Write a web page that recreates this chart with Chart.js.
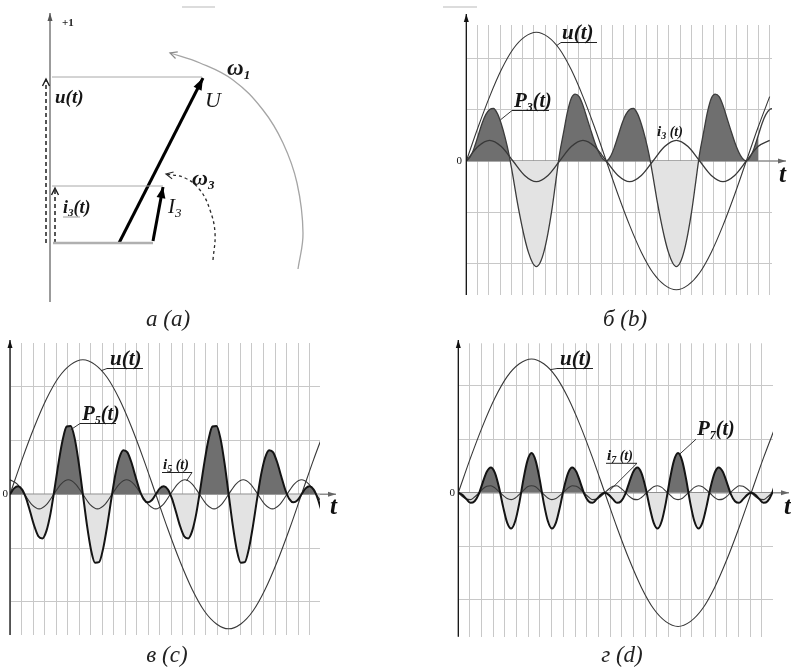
<!DOCTYPE html>
<html><head><meta charset="utf-8">
<script src="https://cdn.jsdelivr.net/npm/chart.js@4.4.1/dist/chart.umd.min.js"></script>
<style>
html,body{margin:0;padding:0;background:#fff;}
#wrap{position:relative;width:791px;height:669px;overflow:hidden;background:#fff;}
canvas{position:absolute;}
</style></head>
<body><div id="wrap">
<canvas id="ca" width="340" height="335" style="left:0px;top:0px"></canvas>
<canvas id="cb" width="351" height="335" style="left:440px;top:0px"></canvas>
<canvas id="cc" width="345" height="334" style="left:0px;top:335px"></canvas>
<canvas id="cd" width="351" height="334" style="left:440px;top:335px"></canvas>
</div>
<script>
// ---------- DATA (phase angle of u in degrees; values in grid units) ----------
const thetaU = [0,15,30,45,60,75,90,105,120,135,150,165,180,195,210,225,240,255,270,285,300,315,330,345,360,375,390];
const uVolt  = [0,0.65,1.25,1.77,2.17,2.41,2.5,2.41,2.17,1.77,1.25,0.65,0,-0.65,-1.25,-1.77,-2.17,-2.41,-2.5,-2.41,-2.17,-1.77,-1.25,-0.65,0,0.65,1.25];
const i3     = [0,0.28,0.4,0.28,0,-0.28,-0.4,-0.28,0,0.28,0.4,0.28,0,-0.28,-0.4,-0.28,0,0.28,0.4,0.28,0,-0.28,-0.4,-0.28,0,0.28,0.4];

const thetaP = [0,5,10,15,20,25,30,35,40,45,50,55,60,65,70,75,80,85,90,95,100,105,110,115,120,125,130,135,140,145,150,155,160,165,170,175,180,185,190,195,200,205,210,215,220,225,230,235,240,245,250,255,260,265,270,275,280,285,290,295,300,305,310,315,320,325,330,335,340,345,350,355,360,365,370,375,380,385,390,395];
const p3 = [0,.08,.25,.48,.72,.9,1.0,1.02,.92,.72,.45,.12,-.3,-.75,-1.15,-1.5,-1.78,-1.97,-2.05,-1.97,-1.75,-1.4,-.95,-.4,.15,.55,.95,1.22,1.3,1.25,1.08,.84,.6,.37,.18,.05,0,
  .08,.25,.48,.72,.9,1.0,1.02,.92,.72,.45,.12,-.3,-.75,-1.15,-1.5,-1.78,-1.97,-2.05,-1.97,-1.75,-1.4,-.95,-.4,.15,.55,.95,1.22,1.3,1.25,1.08,.84,.6,.37,.18,.05,0,
  .08,.25,.48,.72,.9,1.0,1.02];
const p5 = [0,.11,.15,.09,-.08,-.33,-.59,-.78,-.82,-.68,-.36,.1,.59,1.01,1.26,1.27,1.03,.57,0,-.57,-1.03,-1.27,-1.26,-1.01,-.59,-.1,.36,.68,.82,.78,.59,.33,.08,-.09,-.15,-.11,0,
  .11,.15,.09,-.08,-.33,-.59,-.78,-.82,-.68,-.36,.1,.59,1.01,1.26,1.27,1.03,.57,0,-.57,-1.03,-1.27,-1.26,-1.01,-.59,-.1,.36,.68,.82,.78,.59,.33,.08,-.09,-.15,-.11,0,
  .11,.15,.09,-.08,-.33,-.59,-.78];
const p7 = [0,-.04,-.12,-.19,-.16,-.03,.19,.39,.47,.37,.1,-.26,-.56,-.67,-.53,-.19,.25,.6,.74,.6,.25,-.19,-.53,-.67,-.56,-.26,.1,.37,.47,.39,.19,-.03,-.16,-.19,-.12,-.04,0,
  -.04,-.12,-.19,-.16,-.03,.19,.39,.47,.37,.1,-.26,-.56,-.67,-.53,-.19,.25,.6,.74,.6,.25,-.19,-.53,-.67,-.56,-.26,.1,.37,.47,.39,.19,-.03,-.16,-.19,-.12,-.04,0,
  -.04,-.12,-.19,-.16,-.03,.19,.39];
const i7 = [0,-.07,-.12,-.13,-.08,-.01,.07,.12,.13,.09,.02,-.05,-.11,-.13,-.1,-.03,.04,.11,.13,.11,.04,-.03,-.1,-.13,-.11,-.05,.02,.09,.13,.12,.07,-.01,-.08,-.13,-.12,-.07,0,
  .07,.12,.13,.08,.01,-.07,-.12,-.13,-.09,-.02,.05,.11,.13,.1,.03,-.04,-.11,-.13,-.11,-.04,.03,.1,.13,.11,.05,-.02,-.09,-.13,-.12,-.07,.01,.08,.13,.12,.07,0,
  -.07,-.12,-.13,-.08,-.01,.07,.12];

const thetaI5 = [0,9,18,27,36,45,54,63,72,81,90,99,108,117,126,135,144,153,162,171,180,189,198,207,216,225,234,243,252,261,270,279,288,297,306,315,324,333,342,351,360,369,378,387];
const i5 = [.27,.19,0,-.19,-.27,-.19,0,.19,.27,.19,0,-.19,-.27,-.19,0,.19,.27,.19,0,-.19,-.27,-.19,0,.19,.27,.19,0,-.19,-.27,-.19,0,.19,.27,.19,0,-.19,-.27,-.19,0,.19,.27,.19,0,-.19];

const yGridValues = [-2,-1,1,2];

// phasor diagram (a): origin at the foot of the +1 axis line, y up
const axisRe   = [[0,-59],[0,230]];
const uProj    = [[-4,0],[-4,164]];
const iProj    = [[5,0],[5,55]];
const baseLine = [[3,0],[103,0]];
const uLevel   = [[2,166],[152,166]];
const iLevel   = [[2,57],[113,57]];
const phasorU  = [[69,0],[153,165]];
const phasorI3 = [[103,2],[113,56]];
const arcW1    = [[248,-26],[253,10],[247,60],[233,100],[213,133],[183,163],[150,180],[120,190]];
const arcW3    = [[163,-17],[165,10],[160,33],[150,53],[135,65],[116,69]];

// ---------- helpers ----------
const SERIF = '"Liberation Serif","DejaVu Serif",serif';
const DARK = '#6f6f6f', LIGHT = '#e3e3e3', GRID = '#c8c8c8';
const xy = (xs, ys) => xs.map((x, i) => ({x: x, y: ys[i]}));
const pxy = arr => arr.map(p => ({x: p[0], y: p[1]}));

function rich(ctx, x, y, parts, color) {
  ctx.fillStyle = color; ctx.textAlign = 'left'; ctx.textBaseline = 'alphabetic';
  let cx = x;
  parts.forEach(p => { ctx.font = p.f; ctx.fillText(p.t, cx, y + (p.dy || 0)); cx += ctx.measureText(p.t).width; });
  return cx;
}
function seg(ctx, x0, y0, x1, y1, color, w, dash) {
  ctx.beginPath(); ctx.setLineDash(dash || []); ctx.strokeStyle = color; ctx.lineWidth = w;
  ctx.moveTo(x0, y0); ctx.lineTo(x1, y1); ctx.stroke(); ctx.setLineDash([]);
}
function head(ctx, x0, y0, x1, y1, len, half, filled, color, w) {
  const a = Math.atan2(y1 - y0, x1 - x0);
  const bx = x1 - len * Math.cos(a), by = y1 - len * Math.sin(a);
  const px = -Math.sin(a) * half, py = Math.cos(a) * half;
  ctx.beginPath(); ctx.setLineDash([]);
  ctx.moveTo(bx + px, by + py); ctx.lineTo(x1, y1); ctx.lineTo(bx - px, by - py);
  if (filled) { ctx.closePath(); ctx.fillStyle = color; ctx.fill(); }
  else { ctx.strokeStyle = color; ctx.lineWidth = w || 1; ctx.stroke(); }
}
const F = (s, w) => (w || 'bold italic') + ' ' + s + 'px ' + SERIF;
const uLab = [{t: 'u(t)', f: F(21)}];
const pLab = n => [{t: 'P', f: F(21)}, {t: n, f: F(12), dy: 4}, {t: '(t)', f: F(20)}];
const iLab = n => [{t: 'i', f: F(15)}, {t: n, f: F(10), dy: 3}, {t: ' (t)', f: F(14)}];

const baseOpts = {
  responsive: false, animation: false, devicePixelRatio: 1, events: [],
  plugins: {legend: {display: false}, tooltip: {enabled: false}}
};

// ---------- wave panels ----------
function waveChart(id, o) {
  const pPts = xy(thetaP, o.p);
  const fillPts = pPts.filter(p => p.x <= o.fillMax);
  const line = (data, color, w, order) => ({data: data, borderColor: color, borderWidth: w, pointRadius: 0,
    fill: false, cubicInterpolationMode: 'monotone', order: order});
  const ov = {
    id: 'ov' + id,
    beforeDatasetsDraw(chart) {
      const c = chart.ctx, a = chart.chartArea, y0 = chart.scales.y.getPixelForValue(0);
      c.save(); seg(c, a.left, y0, a.right + o.xArrow, y0, '#8e8e8e', 1.6); c.restore();
    },
    afterDraw(chart) {
      const c = chart.ctx, a = chart.chartArea, sx = chart.scales.x, sy = chart.scales.y;
      const y0 = sy.getPixelForValue(0);
      c.save();
      head(c, a.right, y0, a.right + o.xArrow, y0, 8, 2.5, true, '#666');
      seg(c, a.left, a.bottom, a.left, o.yTop, '#111', 1.3);
      head(c, a.left, a.bottom, a.left, o.yTop, 8, 2.5, true, '#111');
      c.font = '11px ' + SERIF; c.fillStyle = '#111'; c.textAlign = 'right'; c.textBaseline = 'middle';
      c.fillText('0', o.zeroX, y0);
      c.font = F(25); c.textAlign = 'left'; c.fillText('t', o.tX, o.tY);
      o.labels.forEach(L => {
        if (L.to) seg(c, L.from[0], L.from[1], sx.getPixelForValue(L.to[0]), sy.getPixelForValue(L.to[1]), '#222', 0.9);
        if (L.ul) seg(c, L.ul[0], L.ul[2], L.ul[1], L.ul[2], '#222', 1);
        rich(c, L.x, L.y, L.parts, '#151515');
      });
      (o.marks || []).forEach(m => seg(c, m[0], m[1], m[2], m[3], '#d0d0d0', 1.5));
      c.font = 'italic 23px ' + SERIF; c.textAlign = 'center'; c.textBaseline = 'alphabetic'; c.fillStyle = '#222';
      c.fillText(o.caption, o.capX, o.capY);
      c.restore();
    }
  };
  return new Chart(document.getElementById(id), {
    type: 'line',
    data: {datasets: [
      {data: fillPts, borderWidth: 0, borderColor: 'rgba(0,0,0,0)', pointRadius: 0, cubicInterpolationMode: 'monotone',
       fill: {target: 'origin', above: DARK, below: LIGHT}, order: 5},
      line(xy(thetaU, uVolt), '#383838', 1.1, 3),
      line(o.iData, '#383838', o.iw, 2),
      line(pPts, o.pc, o.pw, 1)
    ]},
    options: Object.assign({}, baseOpts, {
      layout: {padding: o.pad},
      scales: {
        x: {type: 'linear', min: 0, max: o.xMax, border: {display: false}, ticks: {display: false},
            grid: {color: GRID, lineWidth: 1, drawTicks: false},
            afterBuildTicks: ax => { const t = []; for (let k = 0; k * o.step <= o.xMax + 0.01; k++) t.push({value: k * o.step}); ax.ticks = t; }},
        y: {type: 'linear', min: o.yMin, max: o.yMax, border: {display: false}, ticks: {display: false},
            grid: {color: GRID, lineWidth: 1, drawTicks: false},
            afterBuildTicks: ax => { ax.ticks = yGridValues.map(v => ({value: v})); }}
      }
    }),
    plugins: [ov]
  });
}

waveChart('cb', {
  p: p3, iData: xy(thetaU, i3), iw: 1.3, pc: '#3c3c3c', pw: 1.3, fillMax: 375,
  pad: {left: 26.3, right: 19, top: 25, bottom: 40},
  xMax: 393, step: 14.46, yMin: -2.602, yMax: 2.641,
  xArrow: 14, yTop: 14, zeroX: 22, tX: 339, tY: 176,
  caption: '\u0431 (b)', capX: 185, capY: 326,
  marks: [[3, 7, 37, 7]],
  labels: [
    {x: 122, y: 39, parts: uLab, ul: [121, 157, 42.5], from: [121, 42.5], to: [116, 2.24]},
    {x: 74, y: 107, parts: pLab('3'), ul: [72, 109, 110.5], from: [72, 110.5], to: [44, 0.8]},
    {x: 217, y: 136, parts: iLab('3')}
  ]
});

waveChart('cc', {
  p: p5, iData: xy(thetaI5, i5), iw: 1.1, pc: '#141414', pw: 2.0, fillMax: 999,
  pad: {left: 10, right: 25, top: 8, bottom: 34},
  xMax: 382.8, step: 14.23, yMin: -2.615, yMax: 2.812,
  xArrow: 16, yTop: 5, zeroX: 8, tX: 330, tY: 173,
  caption: '\u0432 (c)', capX: 167, capY: 327,
  labels: [
    {x: 110, y: 30, parts: uLab, ul: [107, 143, 33.5], from: [107, 33.5], to: [113, 2.3]},
    {x: 82, y: 85, parts: pLab('5'), ul: [80, 116, 88.5], from: [80, 88.5], to: [75, 1.2]},
    {x: 163, y: 134, parts: iLab('5'), ul: [162, 192, 137.5], from: [192, 137.5], to: [218, 0.25]}
  ]
});

waveChart('cd', {
  p: p7, iData: xy(thetaP, i7), iw: 1.1, pc: '#141414', pw: 2.0, fillMax: 999,
  pad: {left: 18.3, right: 18, top: 8.3, bottom: 32.3},
  xMax: 386.7, step: 14.34, yMin: -2.692, yMax: 2.793,
  xArrow: 16, yTop: 5, zeroX: 15, tX: 344, tY: 173,
  caption: '\u0433 (d)', capX: 182, capY: 327,
  labels: [
    {x: 120, y: 30, parts: uLab, ul: [117, 153, 33.5], from: [117, 33.5], to: [113, 2.3]},
    {x: 257, y: 100, parts: pLab('7'), from: [256, 104.2], to: [272, 0.72]},
    {x: 167, y: 125, parts: iLab('7'), ul: [166, 197, 128.3], from: [197, 128.3], to: [186, 0.04]}
  ]
});

// ---------- phasor panel (a) ----------
const phasorOverlay = {
  id: 'phasor',
  afterDatasetsDraw(chart) {
    const c = chart.ctx;
    c.save();
    chart.data.datasets.forEach((ds, i) => {
      if (!ds.arrow) return;
      const pts = chart.getDatasetMeta(i).data, n = pts.length;
      const p0 = pts[n - 2], p1 = pts[n - 1];
      const s = ds.arrow;
      head(c, p0.x, p0.y, p1.x, p1.y, s.len, s.half, s.filled, s.color, s.w);
    });
    c.restore();
  },
  afterDraw(chart) {
    const c = chart.ctx;
    c.save();
    rich(c, 62, 26, [{t: '+1', f: 'bold 11px ' + SERIF}], '#222');
    rich(c, 55, 103, [{t: 'u(t)', f: F(19)}], '#151515');
    rich(c, 205, 107, [{t: 'U', f: F(22, 'italic')}], '#151515');
    rich(c, 227, 75, [{t: '\u03c9', f: F(23)}, {t: '1', f: F(13), dy: 4}], '#151515');
    rich(c, 192, 185, [{t: '\u03c9', f: F(22)}, {t: '3', f: F(13), dy: 4}], '#151515');
    rich(c, 168, 213, [{t: 'I', f: F(21, 'italic')}, {t: '3', f: F(13, 'italic'), dy: 4}], '#151515');
    rich(c, 63, 213, [{t: 'i', f: F(18)}, {t: '3', f: F(11), dy: 3}, {t: '(t)', f: F(18)}], '#151515');
    seg(c, 63, 217, 80, 217, '#9a9a9a', 1);
    seg(c, 182, 7, 215, 7, '#d0d0d0', 1.5);
    c.font = 'italic 23px ' + SERIF; c.textAlign = 'center'; c.textBaseline = 'alphabetic'; c.fillStyle = '#222';
    c.fillText('\u0430 (a)', 168, 326);
    c.restore();
  }
};
const seg2 = (data, color, w, extra) => Object.assign({data: pxy(data), borderColor: color, borderWidth: w,
  showLine: true, pointRadius: 0, fill: false, tension: 0}, extra || {});
new Chart(document.getElementById('ca'), {
  type: 'scatter',
  data: {datasets: [
    seg2(axisRe, '#7a7a7a', 1.5, {arrow: {len: 8, half: 2.5, filled: true, color: '#555'}}),
    seg2(baseLine, '#b0b0b0', 2.5),
    seg2(uLevel, '#a8a8a8', 1),
    seg2(iLevel, '#a8a8a8', 1),
    seg2(uProj, '#1e1e1e', 1.5, {borderDash: [4, 3], arrow: {len: 7, half: 3.5, filled: false, color: '#1e1e1e', w: 1.4}}),
    seg2(iProj, '#1e1e1e', 1.5, {borderDash: [4, 3], arrow: {len: 7, half: 3.5, filled: false, color: '#1e1e1e', w: 1.4}}),
    seg2(arcW1, '#a5a5a5', 1.3, {tension: 0.4, arrow: {len: 7, half: 3.5, filled: false, color: '#8a8a8a', w: 1.2}}),
    seg2(arcW3, '#2a2a2a', 1.3, {tension: 0.4, borderDash: [3, 3], arrow: {len: 7, half: 3.5, filled: false, color: '#2a2a2a', w: 1.2}}),
    seg2(phasorU, '#000', 3, {arrow: {len: 12, half: 4.5, filled: true, color: '#000'}}),
    seg2(phasorI3, '#000', 3, {arrow: {len: 11, half: 4.5, filled: true, color: '#000'}})
  ]},
  options: Object.assign({}, baseOpts, {
    layout: {padding: 0},
    scales: {
      x: {type: 'linear', display: false, min: -50, max: 290},
      y: {type: 'linear', display: false, min: -92, max: 243}
    }
  }),
  plugins: [phasorOverlay]
});
</script>
</body></html>
